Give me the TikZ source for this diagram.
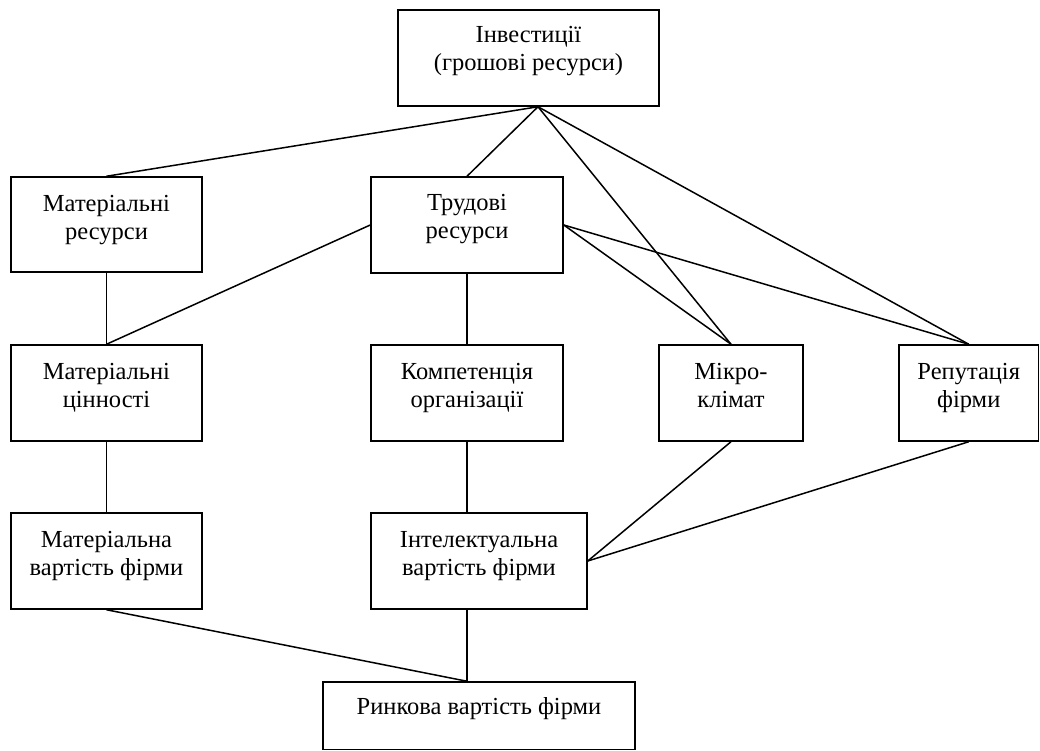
\documentclass[tikz,border=0pt]{standalone}
\usepackage{fontspec}
\setmainfont{Liberation Serif}
\begin{document}
\begin{tikzpicture}[x=1pt,y=-1pt,
  box/.style={draw, line width=1.5pt, inner sep=0pt, rectangle},
  txt/.style={anchor=north, inner sep=0pt, align=center, font=\fontsize{24.5}{28}\selectfont},
  conn/.style={line width=1.5pt}]
\useasboundingbox (0,0) rectangle (1040,751);
% boxes
\node[box, minimum width=261pt, minimum height=96pt] (A) at (528.5,58) {};
\node[box, minimum width=191pt, minimum height=95pt] (B) at (106.5,224.5) {};
\node[box, minimum width=192pt, minimum height=96pt] (C) at (467,225) {};
\node[box, minimum width=191pt, minimum height=96pt] (D) at (106.5,393) {};
\node[box, minimum width=192pt, minimum height=96pt] (E) at (467,393) {};
\node[box, minimum width=144pt, minimum height=96pt] (F) at (731,393) {};
\node[box, minimum width=139.5pt, minimum height=96pt] (G) at (968.75,393) {};
\node[box, minimum width=191pt, minimum height=96pt] (H) at (106.5,561) {};
\node[box, minimum width=216pt, minimum height=96pt] (I) at (479,561) {};
\node[box, minimum width=312pt, minimum height=67.5pt] (J) at (479,715.75) {};
% texts
\node[txt] (At) at ([yshift=-13pt]A.north) {\strut Інвестиції\\\strut(грошові ресурси)};
\node[txt] (Bt) at ([yshift=-15pt]B.north) {\strut Матеріальні\\\strut ресурси};
\node[txt] (Ct) at ([yshift=-14pt]C.north) {\strut Трудові\\\strut ресурси};
\node[txt] (Dt) at ([yshift=-15pt]D.north) {\strut Матеріальні\\\strut цінності};
\node[txt] (Et) at ([yshift=-15pt]E.north) {\strut Компетенція\\\strut організації};
\node[txt] (Ft) at ([yshift=-15pt]F.north) {\strut Мікро-\\\strut клімат};
\node[txt] (Gt) at ([yshift=-15pt]G.north) {\strut Репутація\\\strut фірми};
\node[txt] (Ht) at ([yshift=-15pt]H.north) {\strut Матеріальна\\\strut вартість фірми};
\node[txt] (It) at ([yshift=-15pt]I.north) {\strut Інтелектуальна\\\strut вартість фірми};
\node[txt] (Jt) at ([yshift=-13pt]J.north) {\strut Ринкова вартість фірми};
% connection points
\coordinate (As) at ([xshift=9.5pt]A.south);
\coordinate (Is) at ([xshift=-12pt]I.south);
\coordinate (In) at ([xshift=-12pt]I.north);
\coordinate (Jn) at ([xshift=-12pt]J.north);
% connectors
\draw[conn] (As) -- (B.north);
\draw[conn] (As) -- (C.north);
\draw[conn] (As) -- (F.north);
\draw[conn] (As) -- (G.north);
\draw[conn] (C.east) -- (F.north);
\draw[conn] (C.east) -- (G.north);
\draw[conn] (C.west) -- (D.north);
\draw[conn] (B.south) -- (D.north);
\draw[conn] (C.south) -- (E.north);
\draw[conn] (D.south) -- (H.north);
\draw[conn] (E.south) -- (In);
\draw[conn] (F.south) -- (I.east);
\draw[conn] (G.south) -- (I.east);
\draw[conn] (H.south) -- (Jn);
\draw[conn] (Is) -- (Jn);
\end{tikzpicture}
\end{document}
